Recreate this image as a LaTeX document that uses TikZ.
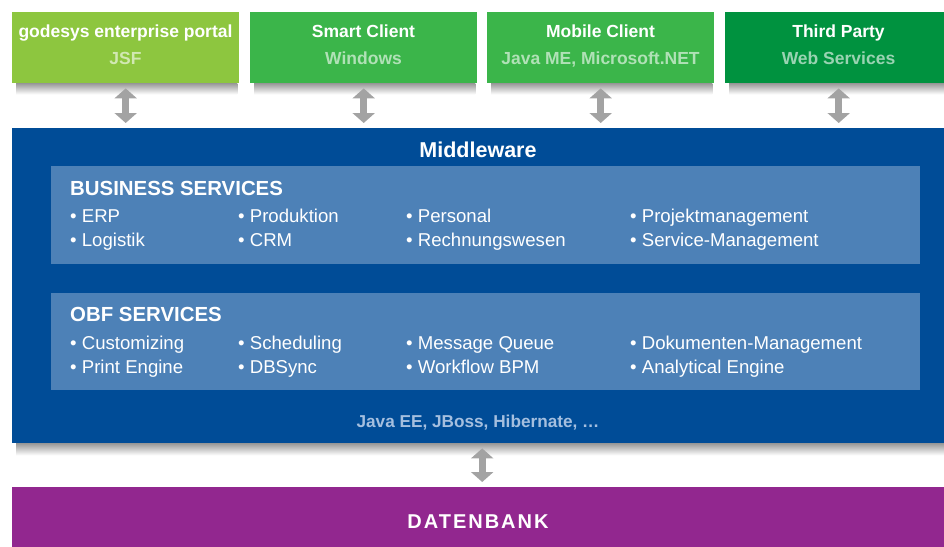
\documentclass[tikz,border=0pt]{standalone}
\usepackage{fontspec}
\setmainfont{Liberation Sans}
\usetikzlibrary{arrows.meta}
\definecolor{portalgreen}{HTML}{8DC63F}
\definecolor{clientgreen}{HTML}{3BB54A}
\definecolor{partygreen}{HTML}{00923F}
\definecolor{mwblue}{HTML}{004C97}
\definecolor{panelblue}{HTML}{4D81B7}
\definecolor{stackblue}{HTML}{A5BFDF}
\definecolor{dbpurple}{HTML}{92278F}
\definecolor{arrowgray}{HTML}{A3A3A3}
\tikzset{
  box/.style={fill=#1, inner sep=0pt, anchor=north west},
  head/.style={white, anchor=base, font=\fontsize{17.5}{20}\selectfont\bfseries},
  sub/.style={head, text opacity=0.6},
  sec/.style={white, inner sep=0pt, anchor=base west, font=\fontsize{20.4}{24}\selectfont\bfseries},
  item/.style={white, inner sep=0pt, anchor=base west, font=\fontsize{18.6}{22}\selectfont},
  link/.style={draw=arrowgray, line width=7pt, {Triangle[width=22pt,length=10pt]}-{Triangle[width=22pt,length=10pt]}, shorten <=5pt, shorten >=5pt},
  shadow/.style={top color=black!40, bottom color=white}
}
\begin{document}
\begin{tikzpicture}[x=1pt, y=-1pt]
\useasboundingbox (0,0) rectangle (944,546);
\clip (0,0) rectangle (944,546);
% clients
\foreach \n/\x/\c/\a/\b in {portal/12/portalgreen/godesys enterprise portal/JSF, smart/250/clientgreen/Smart Client/Windows, mobile/487/clientgreen/Mobile Client/{Java ME, Microsoft.NET}, third/725/partygreen/Third Party/Web Services}{
\node[box=\c, minimum width=227pt, minimum height=71pt] (\n) at (\x,12) {};
\shade[shadow] ([xshift=4pt]\n.south west) rectangle ([xshift=-2pt,yshift=-11pt]\n.south east);
\node[head] (\n-a) at (\x+113.5,37) {\a};
\node[sub] (\n-b) at (\x+113.5,64) {\b};
}
% middleware
\node[box=mwblue, minimum width=932pt, minimum height=315pt] (mw) at (12,128) {};
\shade[shadow] ([xshift=4pt]mw.south west) rectangle ([yshift=-12pt]mw.south east);
\node[white, anchor=base, font=\fontsize{21.5}{25}\selectfont\bfseries] (mw-t) at (478,157) {Middleware};
\node[box=panelblue, minimum width=869pt, minimum height=98pt] (bs) at (51,166) {};
\node[box=panelblue, minimum width=869pt, minimum height=97pt] (obf) at (51,293) {};
\node[sec] (bs-t) at (70,195) {BUSINESS SERVICES};
\node[sec] (obf-t) at (70,321) {OBF SERVICES};
\foreach \t/\x/\y [count=\i] in {ERP/70/222, Logistik/70/246, Produktion/238/222, CRM/238/246, Personal/406/222, Rechnungswesen/406/246, Projektmanagement/630/222, Service-Management/630/246}
\node[item] (bs-\i) at (\x,\y) {• \t};
\foreach \t/\x/\y [count=\i] in {Customizing/70/349, Print Engine/70/373, Scheduling/238/349, DBSync/238/373, Message Queue/406/349, Workflow BPM/406/373, Dokumenten-Management/630/349, Analytical Engine/630/373}
\node[item] (obf-\i) at (\x,\y) {• \t};
\node[stackblue, anchor=base, font=\fontsize{17.2}{20}\selectfont\bfseries] (stack) at (478,427) {Java EE, JBoss, Hibernate, \dots};
% database
\node[box=dbpurple, minimum width=932pt, minimum height=62pt] (db) at (12,487) {};
\node[white, anchor=base, font=\fontsize{20}{24}\selectfont\bfseries\addfontfeature{LetterSpace=10}] (db-t) at (478,528) {DATENBANK};
% arrows
\foreach \n in {portal,smart,mobile,third}
\draw[link] (\n.south) -- (\n.south |- mw.north);
\draw[link] ([xshift=4pt]mw.south) -- ([xshift=4pt]mw.south |- db.north);
\end{tikzpicture}
\end{document}
